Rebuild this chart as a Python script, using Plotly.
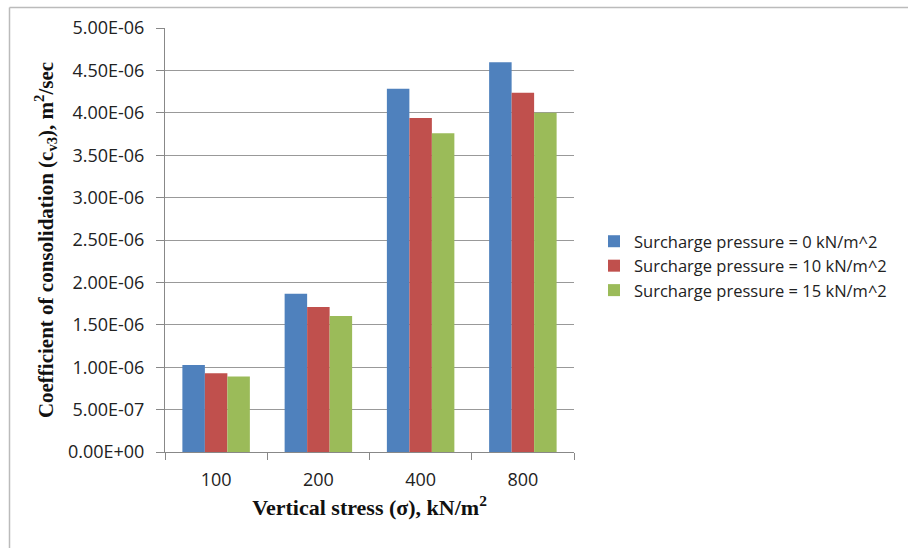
import plotly.graph_objects as go

categories = ["100", "200", "400", "800"]
series_names = ["Surcharge pressure = 0 kN/m^2",
                "Surcharge pressure = 10 kN/m^2",
                "Surcharge pressure = 15 kN/m^2"]
vals_0 = [1.025e-6, 1.865e-6, 4.285e-6, 4.595e-6]
vals_10 = [0.93e-6, 1.71e-6, 3.94e-6, 4.235e-6]
vals_15 = [0.89e-6, 1.605e-6, 3.76e-6, 4.0e-6]
colors = ["#4F81BD", "#C0504D", "#9BBB59"]
y_ticks = [i * 0.5e-6 for i in range(11)]
y_tick_labels = ["0.00E+00", "5.00E-07", "1.00E-06", "1.50E-06", "2.00E-06", "2.50E-06",
                 "3.00E-06", "3.50E-06", "4.00E-06", "4.50E-06", "5.00E-06"]

W, H = 908, 548
L, R, T, B = 165, 574, 28, 452

def px(x):
    return (x - L) / (R - L)

def py(y):
    return (B - y) / (B - T)

fig = go.Figure()
for name, vals, c in zip(series_names, [vals_0, vals_10, vals_15], colors):
    fig.add_trace(go.Bar(x=categories, y=vals, name=name, marker_color=c,
                         marker_line_width=0))

tickfont = dict(family="Open Sans, sans-serif", size=18, color="#222")
fig.update_layout(
    width=W, height=H,
    margin=dict(l=L, r=W - R, t=T, b=H - B, pad=0, autoexpand=False),
    paper_bgcolor="white", plot_bgcolor="white",
    barmode="group", bargap=0.34, bargroupgap=0,
    legend=dict(x=px(594), y=py(224), xanchor="left", yanchor="top",
                font=dict(family="Open Sans, sans-serif", size=16.5, color="#222"),
                itemwidth=30, traceorder="normal"),
    xaxis=dict(
        type="category", tickfont=tickfont,
        showline=True, linecolor="#888", linewidth=1,
        ticks="outside", ticklen=7, tickcolor="#888", tickson="boundaries",
        ticklabelstandoff=11,
        showgrid=False,
        title=dict(text="<b>Vertical stress (σ), kN/m<sup>2</sup></b>",
                   font=dict(family="Liberation Serif, Times New Roman, serif", size=22, color="#111"),
                   standoff=10),
    ),
    yaxis=dict(
        range=[0, 5e-6], tickvals=y_ticks, ticktext=y_tick_labels, tickfont=tickfont,
        showline=True, linecolor="#888", linewidth=1,
        ticks="outside", ticklen=8, tickcolor="#888",
        ticklabelstandoff=8,
        showgrid=True, gridcolor="#999", gridwidth=1, zeroline=False,
        title=dict(text="<b>Coefficient of consolidation (c<sub>v3</sub>), m<sup>2</sup>/sec</b>",
                   font=dict(family="Liberation Serif, Times New Roman, serif", size=21, color="#111"),
                   standoff=8),
    ),
    showlegend=True,
)

# outer chart frame
fig.add_shape(type="line", xref="paper", yref="paper",
              x0=px(9.5), x1=px(910), y0=py(7.5), y1=py(7.5),
              line=dict(color="#BBBBBB", width=1.5))
fig.add_shape(type="line", xref="paper", yref="paper",
              x0=px(9.5), x1=px(9.5), y0=py(7.5), y1=py(550),
              line=dict(color="#BBBBBB", width=1.5))

fig.write_html("out.html")
